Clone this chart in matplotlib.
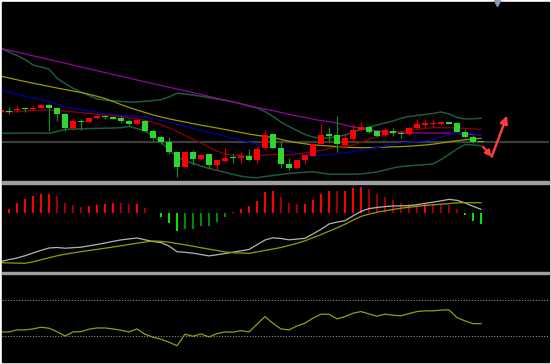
import numpy as np
import matplotlib
matplotlib.use("Agg")
import matplotlib.pyplot as plt
from matplotlib.patches import Rectangle

# ---------------- data ----------------
opens = [8.80, 8.93, 9.00, 9.17, 9.10, 9.20, 9.50, 9.23, 8.60, 7.17,
         7.90, 7.83, 8.17, 8.43, 8.30, 8.23, 7.90, 7.60, 7.90, 6.93,
         6.27, 5.80, 4.83, 3.30, 4.77, 4.10, 4.57, 3.50, 3.93, 4.27,
         4.17, 4.43, 4.00, 5.17, 6.57, 5.17, 3.60, 3.17, 4.00, 4.43,
         5.57, 6.57, 6.50, 5.50, 6.10, 6.97, 7.33, 6.90, 6.50, 6.90,
         6.73, 6.57, 7.17, 7.53, 7.60, 7.63, 7.77, 7.70, 6.77, 6.33, 5.88]
highs = [9.10, 9.33, 9.50, 9.25, 9.50, 9.55, 9.60, 9.30, 8.65, 8.17,
         8.10, 8.30, 8.50, 8.50, 8.40, 8.37, 8.07, 8.05, 7.95, 7.07,
         6.43, 6.33, 4.90, 4.80, 5.00, 4.55, 4.60, 4.00, 5.23, 4.57,
         4.83, 5.10, 5.43, 7.00, 6.70, 5.90, 4.17, 4.05, 4.55, 5.65,
         7.57, 7.27, 8.40, 6.67, 7.57, 7.83, 7.40, 7.00, 7.17, 7.17,
         6.90, 7.25, 8.07, 7.97, 7.97, 7.93, 7.80, 7.75, 7.07, 6.50, 5.92]
lows = [8.70, 8.60, 8.80, 8.80, 9.00, 9.15, 6.90, 7.90, 6.90, 7.00,
        7.00, 7.70, 8.10, 8.10, 8.05, 7.73, 7.40, 7.50, 6.85, 6.00,
        5.60, 4.57, 2.30, 3.25, 3.50, 4.05, 3.17, 3.00, 3.83, 3.67,
        3.67, 3.90, 3.67, 5.00, 5.20, 3.17, 3.00, 3.15, 3.57, 4.40,
        5.53, 5.77, 4.83, 5.23, 5.83, 6.93, 6.75, 6.30, 6.33, 6.43,
        6.23, 6.50, 7.13, 7.30, 7.33, 7.50, 7.58, 6.78, 6.23, 5.67, 5.82]
closes = [9.00, 8.83, 9.13, 9.07, 9.23, 9.50, 9.20, 8.57, 7.23, 7.93,
          7.83, 8.23, 8.43, 8.27, 8.13, 7.90, 7.57, 8.00, 6.90, 6.23,
          5.77, 4.77, 3.30, 4.77, 4.10, 4.50, 3.50, 3.97, 4.23, 4.17,
          4.40, 4.03, 5.10, 6.50, 5.23, 3.57, 3.23, 3.97, 4.50, 5.60,
          6.50, 6.43, 5.57, 6.17, 6.97, 7.33, 6.83, 6.37, 6.97, 6.73,
          6.57, 7.17, 7.57, 7.67, 7.73, 7.77, 7.63, 6.83, 6.33, 5.83, 5.85]

ma_purple = [15.17, 14.98, 14.79, 14.61, 14.42, 14.24, 14.05, 13.86, 13.68, 13.49,
             13.30, 13.12, 12.93, 12.74, 12.56, 12.37, 12.20, 12.00, 11.82, 11.63,
             11.45, 11.27, 11.10, 10.92, 10.74, 10.55, 10.36, 10.17, 9.98, 9.80,
             9.62, 9.43, 9.25, 9.08, 8.94, 8.75, 8.57, 8.40, 8.26, 8.08,
             7.94, 7.84, 7.70, 7.50, 7.30, 7.15, 7.00, 6.92, 6.82, 6.78,
             6.75, 6.72, 6.70, 6.70, 6.70, 6.70, 6.70, 6.65, 6.60, 6.55, 6.50]
ma_yellow = [12.38, 12.20, 12.02, 11.85, 11.68, 11.52, 11.36, 11.20, 11.05, 10.90,
             10.75, 10.57, 10.37, 10.15, 9.85, 9.55, 9.25, 9.00, 8.75, 8.50,
             8.30, 8.12, 7.95, 7.80, 7.64, 7.48, 7.34, 7.20, 7.05, 6.90,
             6.75, 6.60, 6.47, 6.35, 6.25, 6.05, 5.88, 5.73, 5.62, 5.52,
             5.45, 5.40, 5.34, 5.29, 5.25, 5.23, 5.24, 5.26, 5.29, 5.32,
             5.34, 5.38, 5.44, 5.50, 5.58, 5.70, 5.82, 5.93, 6.02, 6.10, 6.17]
ma_blue = [10.98, 10.78, 10.59, 10.40, 10.21, 10.02, 9.85, 9.60, 9.36, 9.15,
           9.03, 8.92, 8.78, 8.62, 8.52, 8.46, 8.40, 8.34, 8.26, 8.14,
           7.97, 7.77, 7.57, 7.37, 7.17, 6.97, 6.77, 6.57, 6.37, 6.17,
           5.97, 5.78, 5.60, 5.42, 5.24, 5.04, 4.85, 4.66, 4.54, 4.48,
           4.44, 4.54, 4.64, 4.73, 4.83, 4.97, 5.12, 5.26, 5.40, 5.55,
           5.70, 5.78, 5.85, 5.93, 6.05, 6.30, 6.55, 6.67, 6.72, 6.62, 6.50]
ma_red = [8.83, 8.80, 8.82, 8.90, 8.95, 8.98, 9.00, 8.94, 8.88, 8.82,
          8.74, 8.65, 8.57, 8.50, 8.44, 8.35, 8.22, 8.11, 7.97, 7.77,
          7.53, 7.22, 6.85, 6.45, 6.07, 5.68, 5.28, 4.90, 4.60, 4.50,
          4.45, 4.40, 4.40, 4.48, 4.56, 4.54, 4.50, 4.60, 4.70, 4.80,
          4.98, 5.15, 5.27, 5.37, 5.50, 5.77, 6.05, 6.33, 6.54, 6.72,
          6.85, 7.00, 7.08, 7.17, 7.23, 7.23, 7.23, 7.20, 7.15, 7.10, 7.07]
boll_upper = [15.15, 14.80, 14.45, 14.05, 13.50, 13.30, 13.10, 12.17, 11.65, 11.17,
              10.80, 10.45, 10.10, 10.00, 9.92, 9.85, 9.80, 9.80, 9.87, 9.95,
              10.03, 10.30, 10.67, 10.60, 10.50, 10.37, 10.24, 10.10, 9.97, 9.83,
              9.62, 9.40, 9.20, 8.85, 8.35, 7.80, 7.35, 6.95, 6.55, 6.30,
              6.17, 6.22, 6.35, 6.48, 6.80, 7.05, 7.30, 7.50, 7.70, 7.90,
              8.17, 8.35, 8.45, 8.55, 8.65, 8.80, 8.60, 8.25, 8.10, 8.13, 8.17]
boll_lower = [6.67, 6.67, 6.68, 6.70, 6.70, 6.69, 6.67, 6.85, 7.05, 7.10,
              7.12, 7.14, 7.16, 7.18, 7.20, 7.23, 7.35, 7.15, 6.90, 6.40,
              5.80, 5.00, 4.30, 3.95, 3.67, 3.40, 3.15, 2.97, 2.77, 2.57,
              2.38, 2.27, 2.23, 2.35, 2.45, 2.55, 2.66, 2.72, 2.77, 2.83,
              2.70, 2.58, 2.57, 2.58, 2.59, 2.60, 2.70, 2.80, 3.00, 3.20,
              3.35, 3.42, 3.48, 3.54, 3.60, 4.05, 4.55, 5.10, 5.55, 5.50, 5.43]

macd_hist = [0.000, 0.037, 0.094, 0.137, 0.170, 0.190, 0.192, 0.170, 0.100, 0.080,
             0.060, 0.070, 0.077, 0.090, 0.097, 0.094, 0.087, 0.090, 0.050, -0.005,
             -0.040, -0.106, -0.183, -0.166, -0.163, -0.133, -0.130, -0.096, -0.040, 0.007,
             0.040, 0.070, 0.120, 0.207, 0.214, 0.160, 0.100, 0.087, 0.090, 0.130,
             0.187, 0.220, 0.217, 0.221, 0.247, 0.260, 0.237, 0.184, 0.157, 0.127,
             0.094, 0.084, 0.077, 0.087, 0.084, 0.077, 0.075, 0.037, -0.020, -0.080, -0.113]
macd_dif = [-0.488, -0.469, -0.453, -0.430, -0.403, -0.377, -0.353, -0.348, -0.355, -0.350,
            -0.345, -0.331, -0.318, -0.303, -0.287, -0.272, -0.262, -0.253, -0.271, -0.288,
            -0.299, -0.333, -0.390, -0.396, -0.405, -0.418, -0.432, -0.421, -0.408, -0.395,
            -0.381, -0.368, -0.320, -0.273, -0.251, -0.258, -0.271, -0.264, -0.256, -0.212,
            -0.166, -0.113, -0.094, -0.080, -0.032, 0.013, 0.041, 0.052, 0.061, 0.067,
            0.069, 0.070, 0.080, 0.093, 0.105, 0.119, 0.133, 0.124, 0.098, 0.064, 0.034]
macd_dea = [-0.500, -0.502, -0.504, -0.506, -0.491, -0.471, -0.451, -0.431, -0.415, -0.402,
            -0.389, -0.378, -0.367, -0.355, -0.343, -0.331, -0.318, -0.305, -0.293, -0.283,
            -0.286, -0.295, -0.308, -0.321, -0.335, -0.350, -0.364, -0.378, -0.392, -0.400,
            -0.403, -0.406, -0.392, -0.377, -0.363, -0.348, -0.327, -0.307, -0.281, -0.250,
            -0.219, -0.185, -0.152, -0.115, -0.075, -0.037, -0.015, 0.005, 0.019, 0.032,
            0.045, 0.054, 0.063, 0.072, 0.079, 0.085, 0.091, 0.098, 0.100, 0.100, 0.100]

osc = [34.1, 34.1, 36.4, 36.4, 37.5, 39.4, 38.3, 34.4, 29.5, 34.1,
       34.4, 37.2, 38.6, 38.6, 37.5, 36.0, 34.1, 37.5, 31.5, 28.1,
       25.8, 22.4, 18.5, 31.5, 29.2, 31.8, 28.4, 32.2, 34.1, 33.8,
       35.6, 34.1, 42.8, 51.5, 43.8, 37.5, 36.4, 40.9, 44.0, 49.7,
       54.2, 54.2, 48.9, 51.5, 55.3, 57.2, 54.5, 51.9, 54.2, 53.1,
       52.3, 54.9, 57.2, 58.0, 58.0, 58.8, 59.1, 50.3, 46.6, 43.5, 43.5]
osc_levels = [70, 30]

arrow_pts = [(60.25, 5.33), (61.34, 4.33), (63.25, 8.43)]

# ---------------- figure ----------------
W, H = 551, 364
fig = plt.figure(figsize=(W / 100, H / 100), dpi=100, facecolor="white")


def rect_px(x0, y0, x1, y1, color, z):
    fig.patches.append(Rectangle((x0 / W, 1 - y1 / H), (x1 - x0) / W, (y1 - y0) / H,
                                 transform=fig.transFigure, color=color, zorder=z))


def axes_px(x0, y0, x1, y1):
    ax = fig.add_axes([x0 / W, 1 - y1 / H, (x1 - x0) / W, (y1 - y0) / H])
    ax.set_axis_off()
    ax.set_zorder(5)
    return ax


rect_px(2, 2, 549, 362, "black", -3)
rect_px(2, 181.4, 549, 183.5, "#a0a0a0", -2)
rect_px(2, 271.6, 549, 273.7, "#a0a0a0", -2)

x = np.arange(len(closes))
xlim = (0.125, 68.5)

# ---- main price panel ----
ax1 = axes_px(2, 2, 549, 181.3)
ax1.set_xlim(*xlim)
ax1.set_ylim(1.87, 19.8)

ax1.axhline(closes[-1], color="#3c3c3c", lw=1.6, zorder=1)

ax1.plot(x, boll_upper, color="#1d5a3c", lw=1.1, zorder=2)
ax1.plot(x, boll_lower, color="#1d5a3c", lw=1.1, zorder=2)
ax1.plot(x, ma_purple, color="#9c009c", lw=0.9, zorder=2)
ax1.plot(x, ma_yellow, color="#9a9a00", lw=0.9, zorder=2)
ax1.plot(x, ma_blue, color="#0000a8", lw=0.9, zorder=2)
ax1.plot(x, ma_red, color="#8c0000", lw=0.9, zorder=2)

for i in x:
    o, h, l, c = opens[i], highs[i], lows[i], closes[i]
    up = c >= o
    wick = "#d00000" if up else "#16891a"
    body = "#ff0000" if up else "#2ed62e"
    ax1.vlines(i, l, h, color=wick, lw=0.9, zorder=3)
    ax1.bar(i, max(abs(c - o), 0.08), bottom=min(o, c), width=0.68,
            color=body, linewidth=0, zorder=4)

(ax0x, ax0y), (bx, by), (cx, cy) = arrow_pts
ax1.annotate("", xy=(bx, by), xytext=(ax0x, ax0y),
             arrowprops=dict(arrowstyle="-|>", color="#ff3c3c", lw=1.6,
                             mutation_scale=9, shrinkA=0, shrinkB=0), zorder=6)
ax1.annotate("", xy=(cx, cy), xytext=(bx, by),
             arrowprops=dict(arrowstyle="-|>", color="#ff3c3c", lw=1.8,
                             mutation_scale=11, shrinkA=0, shrinkB=0), zorder=6)
ax1.plot([0.905], [0.997], marker="v", markersize=4, color="#8a9ab4",
         transform=ax1.transAxes, clip_on=False, zorder=7)

# ---- MACD panel ----
ax2 = axes_px(2, 183.6, 549, 271.5)
ax2.set_xlim(*xlim)
ax2.set_ylim(-0.588, 0.291)
cols = []
prev = 0.0
for v in macd_hist:
    if v >= 0:
        cols.append("#ff0000" if v >= prev else "#9a0000")
    else:
        cols.append("#00e400" if v <= prev else "#008a00")
    prev = v
ax2.bar(x, macd_hist, width=0.26, color=cols, linewidth=0, zorder=2)
ax2.plot(x, macd_dif, color="#b4b4b4", lw=0.9, zorder=3)
ax2.plot(x, macd_dea, color="#9a9a00", lw=0.9, zorder=3)

# ---- oscillator panel ----
ax3 = axes_px(2, 273.8, 549, 362)
ax3.set_xlim(*xlim)
ax3.set_ylim(0, 100)
for lv in osc_levels:
    ax3.axhline(lv, color="#8a8a8a", lw=0.8, linestyle=(0, (1, 1.5)), zorder=1)
ax3.plot(x, osc, color="#9a9a10", lw=0.9, zorder=2)

fig.savefig("out.png", dpi=100, facecolor="white")
